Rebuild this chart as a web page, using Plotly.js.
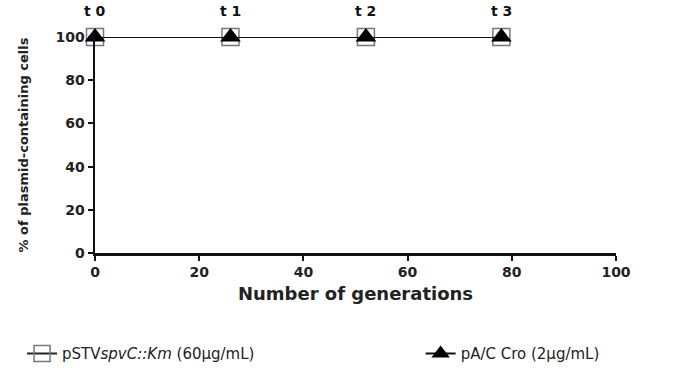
<!DOCTYPE html>
<html><head><meta charset="utf-8">
<script src="https://cdn.plot.ly/plotly-3.0.1.min.js"></script>
<style>body{margin:0;background:#fff}#c{width:684px;height:380px}</style>
</head><body><div id="c"></div>
<script>
const generations = [0, 26, 52, 78];
const pSTV = [100, 100, 100, 100];
const pAC = [100, 100, 100, 100];
const timeLabels = ['t 0', 't 1', 't 2', 't 3'];
const seriesNames = ['pSTV<i>spvC::Km</i> (60µg/mL)', 'pA/C Cro (2µg/mL)'];
const xTicks = [0, 20, 40, 60, 80, 100];
const yTicks = [0, 20, 40, 60, 80, 100];

const traces = [
  {x: generations, y: pSTV, name: seriesNames[0], type: 'scatter', mode: 'lines+markers',
   line: {color: '#222', width: 2}, cliponaxis: false, legend: 'legend',
   marker: {symbol: 'square-open', size: 17, color: '#777', line: {width: 1.5, color: '#777'}}},
  {x: generations, y: pAC, name: seriesNames[1], type: 'scatter', mode: 'lines+markers',
   line: {color: '#111', width: 2}, cliponaxis: false, legend: 'legend2',
   marker: {symbol: 'triangle-up', size: 18, color: '#000'}}
];

const annotations = generations.map((g, i) => ({
  x: g, y: pSTV[i], xref: 'x', yref: 'y', text: timeLabels[i], showarrow: false,
  yshift: 26, font: {family: 'DejaVu Sans, sans-serif', size: 14, color: '#111', weight: 'bold'}
}));

const legendFont = {size: 15, color: '#222', family: 'DejaVu Sans, sans-serif'};

const layout = {
  width: 684, height: 380,
  margin: {l: 95, r: 68, t: 37, b: 127, autoexpand: false},
  paper_bgcolor: '#fff', plot_bgcolor: '#fff',
  font: {family: 'DejaVu Sans, sans-serif', color: '#222'},
  showlegend: true,
  legend: {orientation: 'h', x: -0.14, xanchor: 'left', y: -0.39, yanchor: 'top',
    itemwidth: 30, font: legendFont},
  legend2: {orientation: 'h', x: 0.625, xanchor: 'left', y: -0.39, yanchor: 'top',
    itemwidth: 30, font: legendFont},
  xaxis: {range: [0, 100], tickvals: xTicks, ticks: 'outside', ticklen: 5, tickwidth: 2,
    tickcolor: '#111', showline: true, linecolor: '#111', linewidth: 2.5, showgrid: false,
    zeroline: false, fixedrange: true,
    tickfont: {size: 14, color: '#222', weight: 'bold', family: 'DejaVu Sans, sans-serif'},
    title: {text: 'Number of generations', font: {size: 18, color: '#222', weight: 'bold', family: 'DejaVu Sans, sans-serif'}, standoff: 8}},
  yaxis: {range: [0, 100], tickvals: yTicks, ticks: 'outside', ticklen: 5, tickwidth: 2,
    tickcolor: '#111', showline: true, linecolor: '#111', linewidth: 2.5, showgrid: false,
    zeroline: false, fixedrange: true,
    tickfont: {size: 14, color: '#222', weight: 'bold', family: 'DejaVu Sans, sans-serif'},
    title: {text: '% of plasmid-containing cells', font: {size: 13, color: '#222', weight: 'bold', family: 'DejaVu Sans, sans-serif'}, standoff: 24}},
  annotations: annotations
};
Plotly.newPlot('c', traces, layout, {displayModeBar: false, staticPlot: true});
</script></body></html>
